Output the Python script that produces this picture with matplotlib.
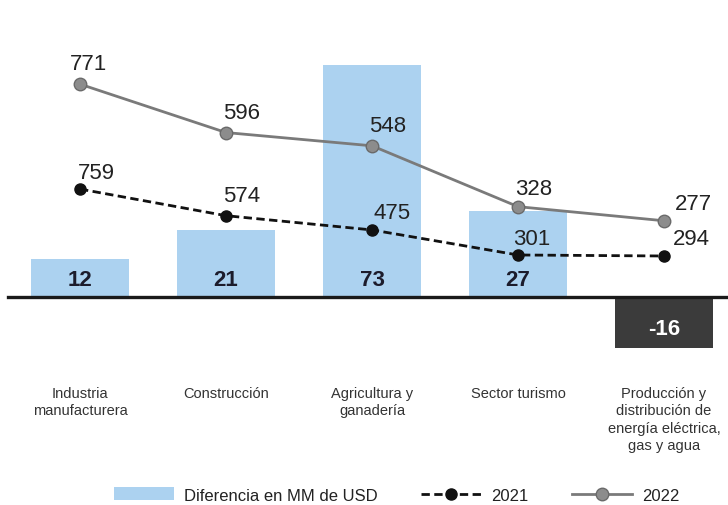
import numpy as np
import matplotlib.pyplot as plt
from matplotlib.patches import Patch
from matplotlib.lines import Line2D

plt.rcParams['font.family'] = ['Liberation Sans', 'DejaVu Sans']

# data
sectores = ['Industria\nmanufacturera', 'Construcción', 'Agricultura y\nganadería',
            'Sector turismo', 'Producción y\ndistribución de\nenergía eléctrica,\ngas y agua']
diferencia = [12, 21, 73, 27, -16]
v2021 = [759, 574, 475, 301, 294]
v2022 = [771, 596, 548, 328, 277]

x = np.arange(len(sectores))
fig = plt.figure(figsize=(7.28, 5.06), dpi=100)
ax = fig.add_axes([0, 0.2688, 1, 0.652])

colores = ['#acd2f0' if d > 0 else '#3b3b3b' for d in diferencia]
ax.bar(x, diferencia, width=0.67, color=colores, zorder=1)
ax.axhline(0, xmin=0.011, xmax=1, color='#1a1a1a', lw=2.4, zorder=2)
narrow = ['Liberation Sans Narrow', 'Liberation Sans', 'DejaVu Sans']
for i, d in enumerate(diferencia):
    if d > 0:
        ax.text(x[i], 5.5, str(d), ha='center', va='center', fontsize=16,
                fontweight='bold', color='#1c1c2c', family=narrow, zorder=5)
    else:
        ax.text(x[i], d / 2 - 2, str(d), ha='center', va='center', fontsize=16,
                fontweight='bold', color='white', family=narrow, zorder=5)
ax.set_xlim(-0.548, 4.438)
ax.set_ylim(-22.6, 81.1)
ax.axis('off')

# 2021 line on its own scale
ax1 = ax.twinx()
ax1.plot(x, v2021, ls=(0, (3, 1.6)), color='#111111', lw=2, marker='o', ms=8,
         mfc='#111111', mec='#111111', zorder=3)
ax1.set_ylim(-491, 1801)
ax1.set_xlim(-0.548, 4.438)
ax1.axis('off')
off21 = [(16, 17), (16, 20), (20, 17), (14, 16), (27, 17)]
for i, v in enumerate(v2021):
    ax1.annotate(str(v), (x[i], v), xytext=off21[i], textcoords='offset pixels',
                 ha='center', va='center', fontsize=16, color='#222222')

# 2022 line
ax2 = ax.twinx()
ax2.plot(x, v2022, ls='-', color='#7a7a7a', lw=2, marker='o', ms=9,
         mfc='#8c8c8c', mec='#6a6a6a', zorder=3)
ax2.set_ylim(-259, 934)
ax2.set_xlim(-0.548, 4.438)
ax2.axis('off')
off22 = [(8, 21), (16, 20), (16, 20), (16, 18), (29, 17)]
for i, v in enumerate(v2022):
    ax2.annotate(str(v), (x[i], v), xytext=off22[i], textcoords='offset pixels',
                 ha='center', va='center', fontsize=16, color='#222222')

# category labels
for i, s in enumerate(sectores):
    ax.text(x[i], -28, s, ha='center', va='top', fontsize=10.5, color='#333333',
            linespacing=1.3, clip_on=False)

handles = [Patch(facecolor='#acd2f0', edgecolor='none'),
           Line2D([], [], ls=(0, (3, 1.6)), color='#111111', lw=2, marker='o', ms=8),
           Line2D([], [], ls='-', color='#7a7a7a', lw=2, marker='o', ms=9,
                  mfc='#8c8c8c', mec='#6a6a6a')]
fig.legend(handles, ['Diferencia en MM de USD', '2021', '2022'], loc='lower center',
           bbox_to_anchor=(0.545, -0.025), ncol=3, frameon=False, fontsize=12,
           handlelength=3.6, columnspacing=2.6, handletextpad=0.6, handleheight=0.8,
           labelcolor='#222222')

fig.savefig('out.png', dpi=100)
